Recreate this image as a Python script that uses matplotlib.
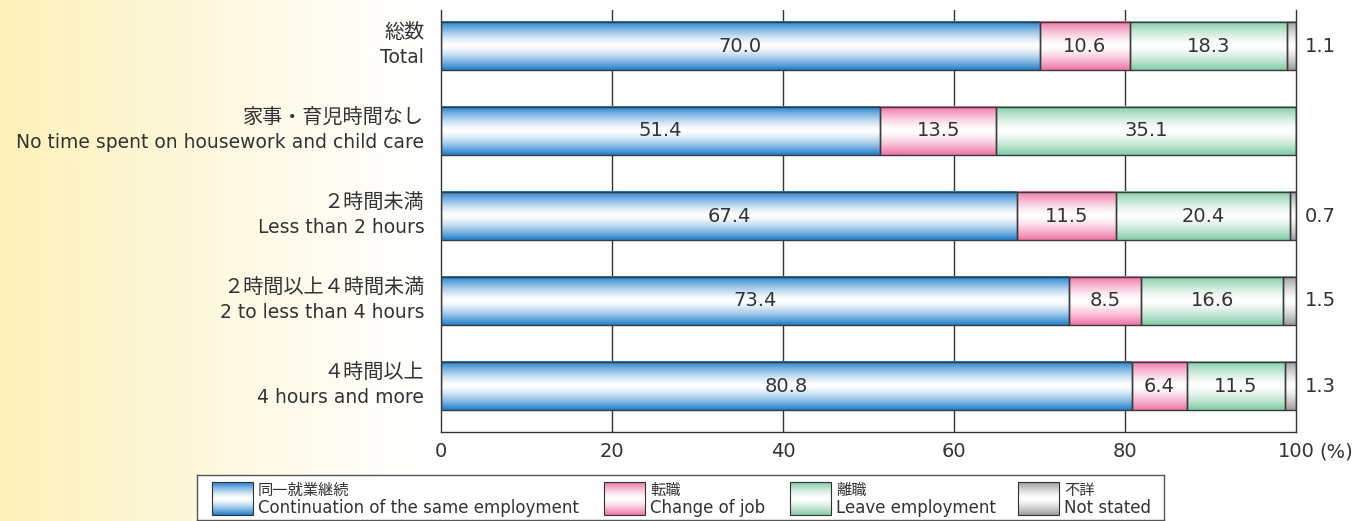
import numpy as np
import matplotlib
matplotlib.use("Agg")
import matplotlib.pyplot as plt
from matplotlib.colors import LinearSegmentedColormap
from matplotlib.patches import Rectangle

plt.rcParams['font.family'] = ['DejaVu Sans', 'Noto Sans CJK JP']

categories_jp = ["総数", "家事・育児時間なし", "２時間未満", "２時間以上４時間未満", "４時間以上"]
categories_en = ["Total", "No time spent on housework and child care", "Less than 2 hours",
                 "2 to less than 4 hours", "4 hours and more"]
same_job = [70.0, 51.4, 67.4, 73.4, 80.8]
change_job = [10.6, 13.5, 11.5, 8.5, 6.4]
leave_job = [18.3, 35.1, 20.4, 16.6, 11.5]
not_stated = [1.1, 0.0, 0.7, 1.5, 1.3]
series_jp = ["同一就業継続", "転職", "離職", "不詳"]
series_en = ["Continuation of the same employment", "Change of job", "Leave employment", "Not stated"]
x_ticks = [0, 20, 40, 60, 80, 100]

edge_colors = ["#1f7fcc", "#ef74a4", "#82cba8", "#9c9c9c"]
text_color = "#333333"


def grad_cmap(c):
    return LinearSegmentedColormap.from_list("g", ["white", c])


t = np.linspace(0, 1, 64)
profile = (np.abs(2 * t - 1) ** 1.4).reshape(-1, 1)


def gradient_rect(ax, x, y, w, h, color, zorder=2):
    ax.imshow(profile, extent=[x, x + w, y + h, y], aspect='auto',
              cmap=grad_cmap(color), vmin=0, vmax=1, zorder=zorder, interpolation='bilinear')


fig = plt.figure(figsize=(13.72, 5.21), dpi=100)

# background yellow fade on the left
bg = fig.add_axes([0, 0, 440 / 1372, 1], zorder=-10)
xs = np.linspace(0, 1, 256)
fade = (1 - xs) ** 1.2
bg.imshow(fade.reshape(1, -1), extent=[0, 1, 0, 1], aspect='auto',
          cmap=LinearSegmentedColormap.from_list("bgc", ["white", "#fdf1b8"]), vmin=0, vmax=1)
bg.axis('off')

ax = fig.add_axes([441 / 1372, 1 - 432 / 521, (1296 - 441) / 1372, (432 - 10) / 521])
ax.patch.set_alpha(0)
ypos = np.arange(len(categories_jp))
height = 0.565
series = [same_job, change_job, leave_job, not_stated]
left = np.zeros(len(ypos))
for vals, col in zip(series, edge_colors):
    vals = np.array(vals)
    bars = ax.barh(ypos, vals, left=left, height=height, facecolor='none',
                   edgecolor='#3a3a3a', linewidth=1.0, zorder=4)
    for b, v in zip(bars, vals):
        if v <= 0:
            continue
        gradient_rect(ax, b.get_x(), b.get_y(), b.get_width(), b.get_height(), col)
    left = left + vals

# value labels
for i in ypos:
    acc = 0
    for k, vals in enumerate(series):
        v = vals[i]
        if v <= 0:
            continue
        if k < 3:
            ax.text(acc + v / 2, i, f"{v:.1f}", ha='center', va='center', fontsize=14,
                    color=text_color, zorder=5)
        else:
            ax.text(101.0, i, f"{v:.1f}", ha='left', va='center', fontsize=14,
                    color=text_color, zorder=5, clip_on=False)
        acc += v

ax.set_xlim(0, 100)
ax.set_ylim(4 + 46 / 85, -36 / 85)
ax.set_xticks(x_ticks)
ax.set_xticklabels([str(v) for v in x_ticks], fontsize=14, color=text_color)
ax.tick_params(axis='x', length=0, pad=7)
ax.set_yticks([])
for i in ypos:
    ax.annotate(categories_jp[i], xy=(0, i - 0.16), xycoords=('axes fraction', 'data'),
                xytext=(-12, 0), textcoords='offset points', ha='right', va='center',
                fontsize=14.5, color=text_color)
    ax.annotate(categories_en[i], xy=(0, i + 0.14), xycoords=('axes fraction', 'data'),
                xytext=(-12, 0), textcoords='offset points', ha='right', va='center',
                fontsize=13.5, color=text_color)
ax.text(102.7, -0.026, "(%)", transform=ax.get_xaxis_transform(), ha='left', va='top',
        fontsize=14, color=text_color)
for x in x_ticks[1:-1]:
    ax.axvline(x, color='#333333', linewidth=1.0, zorder=1)
ax.spines['top'].set_visible(False)
for s in ['left', 'right', 'bottom']:
    ax.spines[s].set_color('#333333')
    ax.spines[s].set_linewidth(1.0)

# legend box
lg = fig.add_axes([197 / 1372, 1 - 520 / 521, (1164 - 197) / 1372, (520 - 475) / 521])
lg.set_xticks([])
lg.set_yticks([])
for s in lg.spines.values():
    s.set_color('#555555')
    s.set_linewidth(1.0)
swatch_x = [212, 604, 790, 1018]
for sx, col, jp, en in zip(swatch_x, edge_colors, series_jp, series_en):
    lg.imshow(profile, extent=[sx, sx + 41, 515, 482], aspect='auto',
              cmap=grad_cmap(col), vmin=0, vmax=1, zorder=2)
    lg.add_patch(Rectangle((sx, 482), 41, 33, facecolor='none', edgecolor='#333333',
                           linewidth=0.8, zorder=3))
    lg.text(sx + 46, 490, jp, ha='left', va='center', fontsize=11, color=text_color)
    lg.text(sx + 46, 508, en, ha='left', va='center', fontsize=12, color=text_color)
lg.set_xlim(197, 1164)
lg.set_ylim(520, 475)

fig.savefig("out.png", dpi=100)
